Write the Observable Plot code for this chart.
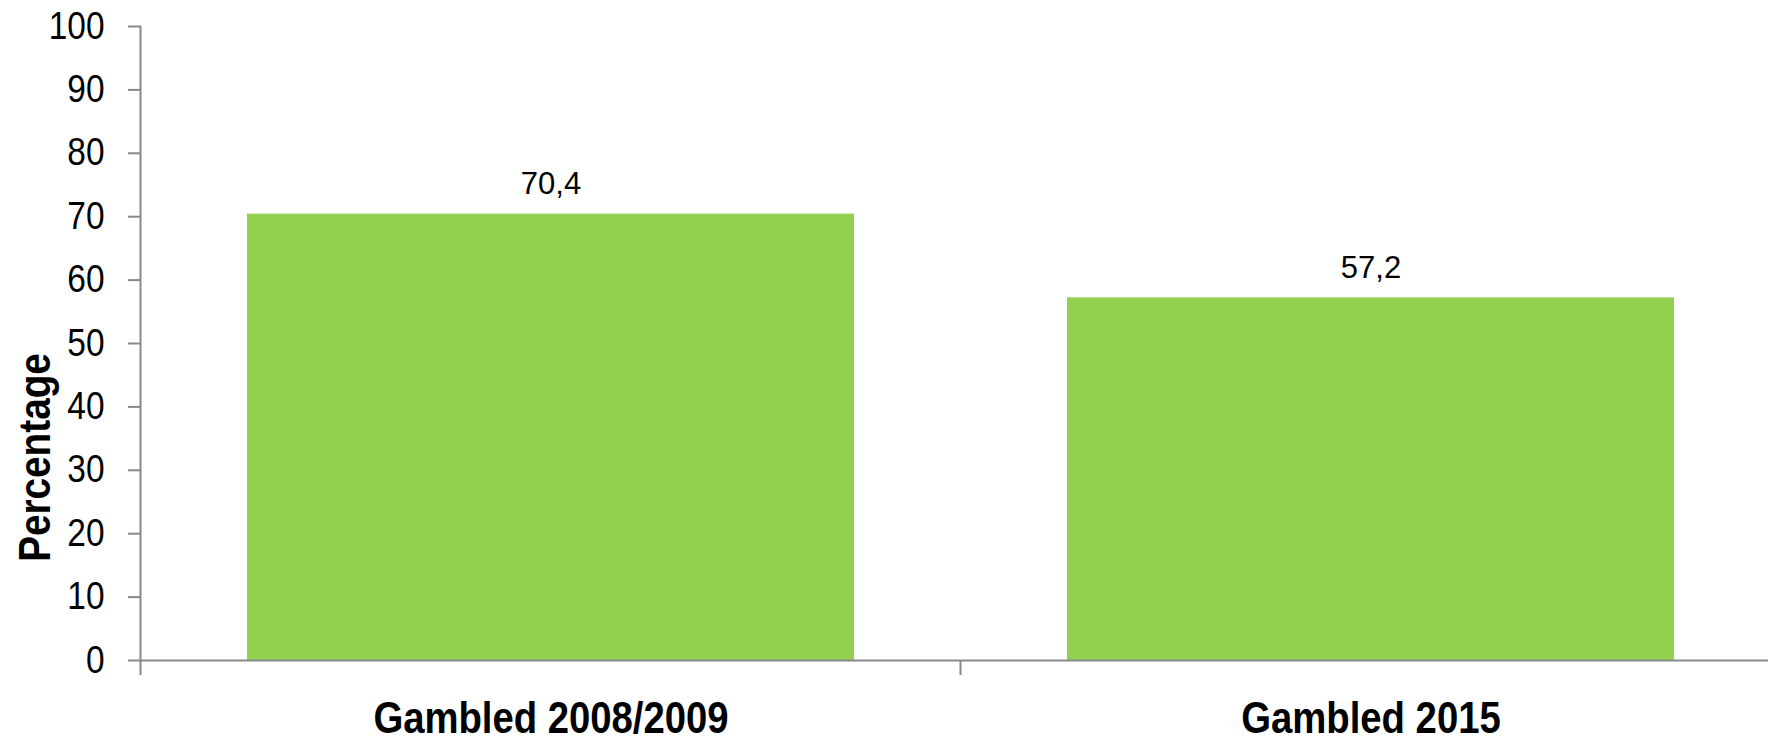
<!DOCTYPE html>
<html>
<head>
<meta charset="utf-8">
<script src="https://cdn.jsdelivr.net/npm/d3@7"></script>
<script src="https://cdn.jsdelivr.net/npm/@observablehq/plot@0.6"></script>
<style>
html, body { margin: 0; padding: 0; background: #fff; overflow: hidden; }
</style>
</head>
<body>
<div id="chart"></div>
<script>
const categories = ["Gambled 2008/2009", "Gambled 2015"];
const values = [70.4, 57.2];
const yTicks = [0, 10, 20, 30, 40, 50, 60, 70, 80, 90, 100];
const yLabel = "Percentage";

const data = categories.map((c, i) => ({category: c, value: values[i]}));
const fmt = d3.formatLocale({decimal: ",", thousands: ".", grouping: [3], currency: ["", ""]}).format(".1f");

const axisColor = "#898989";
const barColor = "#92d050";
const FONT = "'Liberation Sans', Arial, Helvetica, sans-serif";

function boundaryTicks(index, scales, vals, dimensions) {
  const x = scales.x;
  const bw = typeof x.bandwidth === "function" ? x.bandwidth() : x.bandwidth;
  let step = typeof x.step === "function" ? x.step() : x.step;
  if (!(step > 0)) step = x(categories[1]) - x(categories[0]);
  const y0 = dimensions.height - dimensions.marginBottom;
  const g = d3.create("svg:g").attr("aria-label", "x boundary ticks");
  g.selectAll("line").data(categories).join("line")
    .attr("x1", d => x(d) - (step - bw) / 2)
    .attr("x2", d => x(d) - (step - bw) / 2)
    .attr("y1", y0)
    .attr("y2", y0 + 15)
    .attr("stroke", axisColor)
    .attr("stroke-width", 2);
  return g.node();
}

const chart = Plot.plot({
  width: 1768,
  height: 740,
  marginLeft: 140,
  marginRight: 0,
  marginTop: 26,
  marginBottom: 80,
  style: {fontFamily: FONT, fontSize: "38px", color: "black", background: "white", overflow: "visible"},
  x: {type: "band", domain: categories, range: [140, 1780], paddingInner: 0.26, paddingOuter: 0.13},
  y: {domain: [0, 100]},
  marks: [
    Plot.barY(data, {x: "category", y: "value", fill: barColor}),
    Plot.ruleY([0], {stroke: axisColor, strokeWidth: 2}),
    Plot.frame({anchor: "left", stroke: axisColor, strokeWidth: 2}),
    Plot.axisY({ticks: yTicks, tickSize: 12, tickPadding: 24, stroke: axisColor, strokeWidth: 2, strokeOpacity: 1, fontSize: 38, label: null, fill: "black"}),
    Plot.axisX({tickSize: 0, tickPadding: 41, fontSize: 44, fontWeight: "bold", label: null, fill: "black"}),
    boundaryTicks,
    Plot.text(data, {x: "category", y: "value", text: d => fmt(d.value), dy: -30, fontSize: 31, lineAnchor: "middle", fill: "black"}),
    Plot.text([yLabel], {frameAnchor: "left", rotate: -90, dx: -105, dy: 114, fontSize: 44, fontWeight: "bold", text: d => d, fill: "black", lineAnchor: "middle", textAnchor: "middle"})
  ]
});

document.getElementById("chart").appendChild(chart);

// condense axis fonts horizontally (narrow look of the original)
function condense(sel, sx) {
  d3.select(chart).selectAll(sel).each(function() {
    const t = this.getAttribute("transform");
    this.setAttribute("transform", (t ? t + " " : "") + `scale(${sx},1)`);
  });
}
condense('g[aria-label="y-axis tick label"] text', 0.88);
condense('g[aria-label="x-axis tick label"] text', 0.87);
condense('g[aria-label="text"]:last-of-type text', 0.88);
</script>
</body>
</html>
